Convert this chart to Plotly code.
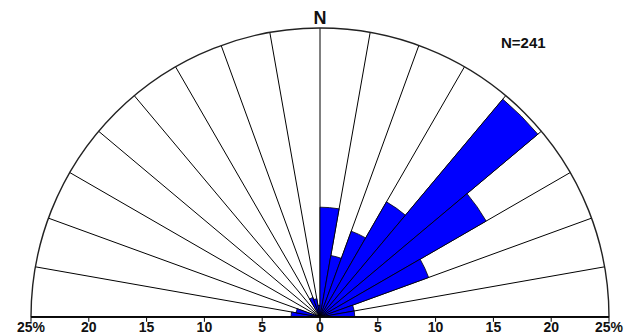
import plotly.graph_objects as go

# Sector centres (compass bearings, degrees; west side negative) and percentages
east_bearings = [5, 15, 25, 35, 45, 55, 65, 75, 85]
east_percent = [9.5, 5.4, 7.9, 11.5, 24.6, 16.6, 10.0, 3.0, 3.0]
west_bearings = [-85, -75, -65, -55, -45, -35, -25, -15, -5]
west_percent = [2.5, 2.1, 0.0, 0.0, 0.0, 0.0, 1.8, 1.6, 1.0]

scale_values = [25, 20, 15, 10, 5, 0, 5, 10, 15, 20, 25]
scale_sides = [-90, -90, -90, -90, -90, 90, 90, 90, 90, 90, 90]
scale_labels = ["25%", "20", "15", "10", "5", "0", "5", "10", "15", "20", "25%"]
tick_values = [0, 5, 10, 15, 20, 25]
grid_bearings = list(range(-90, 100, 10))
north_label = "N"
count_label = "N=241"
r_max = 25

FONT = "Arial, Liberation Sans, sans-serif"

fig = go.Figure()
fig.add_trace(go.Barpolar(
    r=west_percent + east_percent,
    theta=west_bearings + east_bearings,
    width=10,
    marker=dict(color="#0000FF", line=dict(color="black", width=0.8)),
    subplot="polar",
    showlegend=False,
))
fig.add_trace(go.Scatterpolar(
    r=[r_max, 0, r_max], theta=[-90, 0, 90],
    mode="lines", line=dict(color="black", width=1.6), subplot="polar",
    showlegend=False, hoverinfo="skip",
))
fig.add_trace(go.Scatterpolar(
    r=scale_values, theta=scale_sides, text=scale_labels,
    mode="markers+text", textposition="bottom center",
    marker=dict(size=5, opacity=0),
    textfont=dict(size=14, family=FONT, weight="bold", color="#111"),
    cliponaxis=False, subplot="polar", showlegend=False, hoverinfo="skip",
))
fig.add_trace(go.Scatterpolar(
    r=[r_max], theta=[0], text=[north_label],
    mode="text", textposition="top center",
    textfont=dict(size=18, family=FONT, weight="bold", color="#111"),
    cliponaxis=False, subplot="polar", showlegend=False, hoverinfo="skip",
))
fig.add_trace(go.Scatterpolar(
    r=[0], theta=[0], mode="markers", marker=dict(opacity=0),
    subplot="polar2", showlegend=False, hoverinfo="skip",
))

dom_x = [17 / 640, 607 / 640]
dom_y = [1 - 309 / 336, 1 - 20 / 336]

common_ang = dict(rotation=90, direction="clockwise")
tick_axis = dict(
    range=[0, r_max], tickvals=tick_values, showticklabels=False,
    ticks="outside", ticklen=4, tickcolor="black",
    showline=True, linecolor="black", linewidth=1.6, showgrid=False,
)

fig.update_layout(
    width=640, height=336,
    margin=dict(l=0, r=0, t=0, b=0),
    paper_bgcolor="white",
    font=dict(family=FONT, color="black"),
    polar=dict(
        domain=dict(x=dom_x, y=dom_y),
        sector=[0, 180],
        bgcolor="white",
        radialaxis=dict(angle=0, side="clockwise", **tick_axis),
        angularaxis=dict(
            **common_ang,
            tickvals=grid_bearings, showticklabels=False,
            ticks="", showline=True, linecolor="#222", linewidth=1.4,
            showgrid=True, gridcolor="black", gridwidth=0.8,
        ),
    ),
    polar2=dict(
        domain=dict(x=dom_x, y=dom_y),
        sector=[0, 180],
        bgcolor="rgba(0,0,0,0)",
        radialaxis=dict(angle=180, side="counterclockwise", **tick_axis),
        angularaxis=dict(**common_ang, showline=False, showgrid=False,
                         ticks="", showticklabels=False),
    ),
    annotations=[dict(
        text=count_label, x=515 / 640, y=1 - 35 / 336, xref="paper", yref="paper",
        xanchor="center", yanchor="middle", showarrow=False,
        font=dict(size=15, family=FONT, weight="bold", color="#111"),
    )],
)

fig.write_html("out.html")
